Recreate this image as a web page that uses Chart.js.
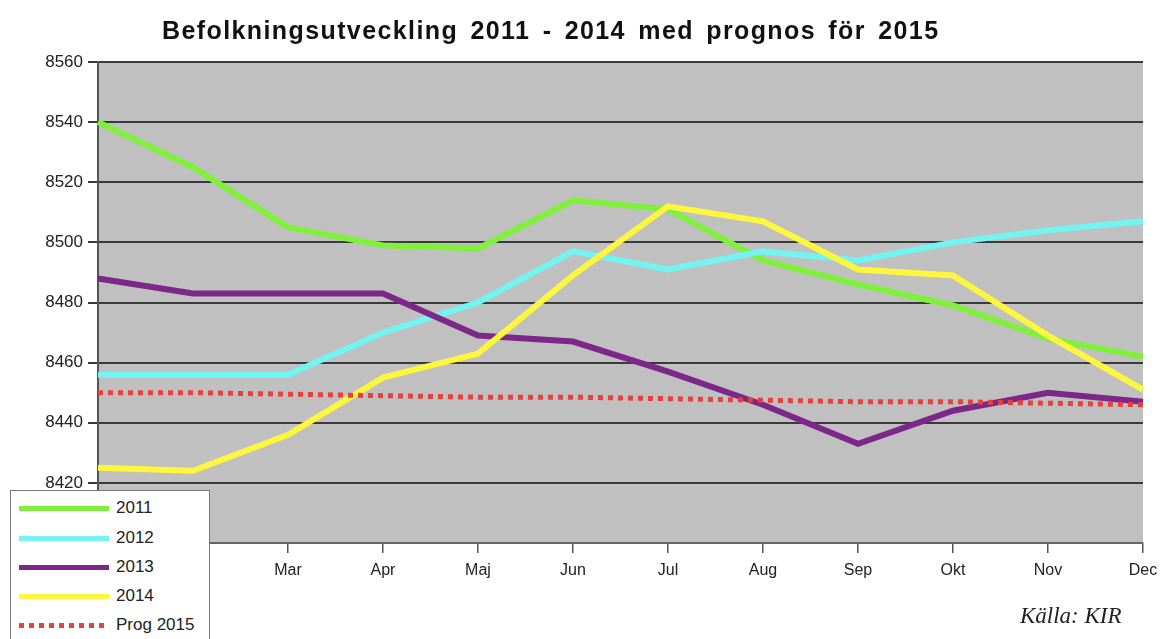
<!DOCTYPE html>
<html>
<head>
<meta charset="utf-8">
<script src="https://cdn.jsdelivr.net/npm/chart.js@4/dist/chart.umd.min.js"></script>
<style>
  body { margin: 0; background: #fff; }
  #wrap { position: relative; width: 1166px; height: 639px; overflow: hidden; }
  #title { position: absolute; left: 162px; top: 16px; white-space: nowrap;
           font: bold 25px "Liberation Sans", Arial, sans-serif; color: #111;
           letter-spacing: 1.4px; word-spacing: 4px; }
  #legend { position: absolute; left: 10px; top: 490px; width: 198px; height: 170px;
            background: #fff; border: 1.5px solid #777; }
  .row { position: absolute; left: 8px; height: 20px; display: flex; align-items: center;
         font: 17px "Liberation Sans", Arial, sans-serif; color: #222; }
  .sample { width: 90px; height: 5px; margin-right: 7px; }
  #source { position: absolute; left: 1020px; top: 603px;
            font: italic 23px "Liberation Serif", "Times New Roman", serif; color: #222; }
</style>
</head>
<body>
<div id="wrap">
  <canvas id="chart" width="1166" height="639"></canvas>
  <div id="title">Befolkningsutveckling 2011 - 2014 med prognos för 2015</div>
  <div id="legend"></div>
  <div id="source">Källa: KIR</div>
</div>
<script>
// data
const months = ['Jan', 'Feb', 'Mar', 'Apr', 'Maj', 'Jun', 'Jul', 'Aug', 'Sep', 'Okt', 'Nov', 'Dec'];
const y2011 = [8540, 8525, 8505, 8499, 8498, 8514, 8511, 8494, 8486, 8479, 8468, 8462];
const y2012 = [8456, 8456, 8456, 8470, 8480, 8497, 8491, 8497, 8494, 8500, 8504, 8507];
const y2013 = [8488, 8483, 8483, 8483, 8469, 8467, 8457, 8446, 8433, 8444, 8450, 8447];
const y2014 = [8425, 8424, 8436, 8455, 8463, 8489, 8512, 8507, 8491, 8489, 8469, 8451];
const prog2015 = [8450, 8450, 8449.5, 8449, 8448.5, 8448.5, 8448, 8447.5, 8447, 8447, 8446.5, 8446];

const series = [
  { label: '2011', data: y2011, color: '#80f03c' },
  { label: '2012', data: y2012, color: '#72f4f2' },
  { label: '2013', data: y2013, color: '#7b2888' },
  { label: '2014', data: y2014, color: '#fcf63e' },
  { label: 'Prog 2015', data: prog2015, color: '#e8403c', dotted: true }
];

// grey plot background
const plotBg = {
  id: 'plotBg',
  beforeDraw(chart) {
    const a = chart.chartArea, ctx = chart.ctx;
    ctx.save();
    ctx.fillStyle = '#c0c0c0';
    ctx.fillRect(a.left, a.top, a.right - a.left, a.bottom - a.top);
    ctx.restore();
  }
};

const ctx = document.getElementById('chart').getContext('2d');
new Chart(ctx, {
  type: 'line',
  data: {
    labels: months,
    datasets: series.map((s, i) => ({
      label: s.label,
      data: s.data,
      borderColor: s.color,
      backgroundColor: s.color,
      borderWidth: s.dotted ? 5 : 6,
      borderDash: s.dotted ? [5, 5] : [],
      pointRadius: 0,
      tension: 0,
      fill: false,
      order: series.length - i
    }))
  },
  options: {
    responsive: false,
    animation: false,
    layout: { padding: { left: 0, right: 23, top: 62, bottom: 0 } },
    plugins: { legend: { display: false }, tooltip: { enabled: false }, title: { display: false } },
    scales: {
      x: {
        offset: false,
        afterFit(scale) { scale.height = 96; },
        grid: { drawOnChartArea: false, drawTicks: true, tickLength: 10, color: '#555', lineWidth: 1.5 },
        border: { color: '#666', width: 2 },
        ticks: { color: '#222', padding: 8, font: { family: 'Liberation Sans', size: 16 }, maxRotation: 0, autoSkip: false }
      },
      y: {
        min: 8400,
        max: 8560,
        afterFit(scale) { scale.width = 98; },
        grid: { color: '#3a3a3a', lineWidth: 2, tickLength: 10 },
        border: { color: '#555', width: 2 },
        ticks: { stepSize: 20, color: '#222', padding: 5, font: { family: 'Liberation Sans', size: 17 },
                 callback: v => String(v) }
      }
    }
  },
  plugins: [plotBg]
});

// legend
const legend = document.getElementById('legend');
const rowTops = [7, 37, 66, 95, 124];
series.forEach((s, i) => {
  const row = document.createElement('div');
  row.className = 'row';
  row.style.top = rowTops[i] + 'px';
  const sample = document.createElement('div');
  sample.className = 'sample';
  sample.style.background = s.dotted
    ? `repeating-linear-gradient(90deg, ${s.color} 0 5px, transparent 5px 10px)`
    : s.color;
  row.appendChild(sample);
  row.appendChild(document.createTextNode(s.label));
  legend.appendChild(row);
});
</script>
</body>
</html>
